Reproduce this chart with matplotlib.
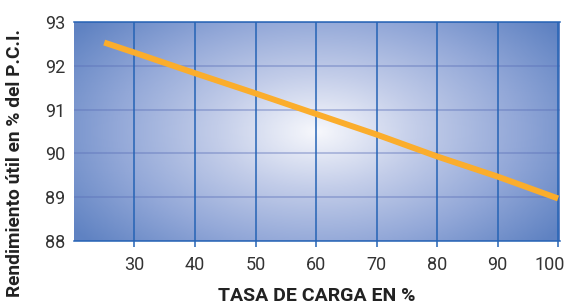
import numpy as np
import matplotlib
matplotlib.use("Agg")
import matplotlib.pyplot as plt
from matplotlib.colors import LinearSegmentedColormap
from matplotlib.transforms import ScaledTranslation

# data
load_pct = [25, 30, 40, 50, 60, 70, 80, 90, 100]
efficiency = [92.53, 92.30, 91.83, 91.37, 90.90, 90.43, 89.93, 89.47, 88.97]
x_ticks = [30, 40, 50, 60, 70, 80, 90, 100]
y_ticks = [88, 89, 90, 91, 92, 93]

plt.rcParams["font.family"] = ["Roboto", "DejaVu Sans"]

fig = plt.figure(figsize=(5.69, 3.05), dpi=100)
ax = fig.add_axes([0.130, 0.210, 0.854, 0.718])

# radial background gradient, light in the middle, blue toward the corners
nx, ny = 400, 200
u = np.linspace(0, 1, nx)
v = np.linspace(0, 1, ny)
U, V = np.meshgrid(u, v)
cx, cy = 0.50, 0.50
d = np.sqrt(((U - cx) / 0.62) ** 2 + ((V - cy) / 0.78) ** 2)
d = np.clip(d, 0, 1)
cmap = LinearSegmentedColormap.from_list(
    "bg", ["#f7f8fc", "#c3cde9", "#93a8d8", "#5f82c2"]
)
ax.imshow(d, cmap=cmap, extent=[20, 100.3, 88, 93], aspect="auto",
          origin="lower", zorder=0, vmin=0, vmax=1)

ax.set_xlim(20, 100.3)
ax.set_ylim(88, 93)

for yv in y_ticks:
    ax.axhline(yv, color="#5a6fb8", alpha=0.45, lw=1.2, zorder=1)
for xv in x_ticks:
    ax.axvline(xv, color="#2563b5", lw=1.1, zorder=1)

ax.plot(load_pct, efficiency, color="#fbad2c", lw=4.3, solid_capstyle="butt", zorder=3)

ax.set_xticks(x_ticks)
ax.set_yticks(y_ticks)
ax.tick_params(axis="x", length=4.5, width=1.1, color="#2563b5", pad=6,
               labelsize=13, labelcolor="#333333")
ax.tick_params(axis="y", length=0, pad=6, labelsize=13, labelcolor="#333333")

# the last x label sits a little left of its tick so it stays in the frame
last = ax.get_xticklabels()[-1]
last.set_transform(last.get_transform() + ScaledTranslation(-8 / 100, 0, fig.dpi_scale_trans))

for side in ["top", "bottom"]:
    ax.spines[side].set_color("#2563b5")
    ax.spines[side].set_linewidth(1.1)
for side in ["left", "right"]:
    ax.spines[side].set_visible(False)

ax.set_xlabel("TASA DE CARGA EN %", fontsize=14, fontweight="bold",
              color="#222222", labelpad=10)
fig.text(0.026, 0.465, "Rendimiento útil en % del P.C.I.", rotation=90,
         fontsize=13.8, fontweight="bold", color="#222222",
         ha="center", va="center")

fig.savefig("out.png", dpi=100)
